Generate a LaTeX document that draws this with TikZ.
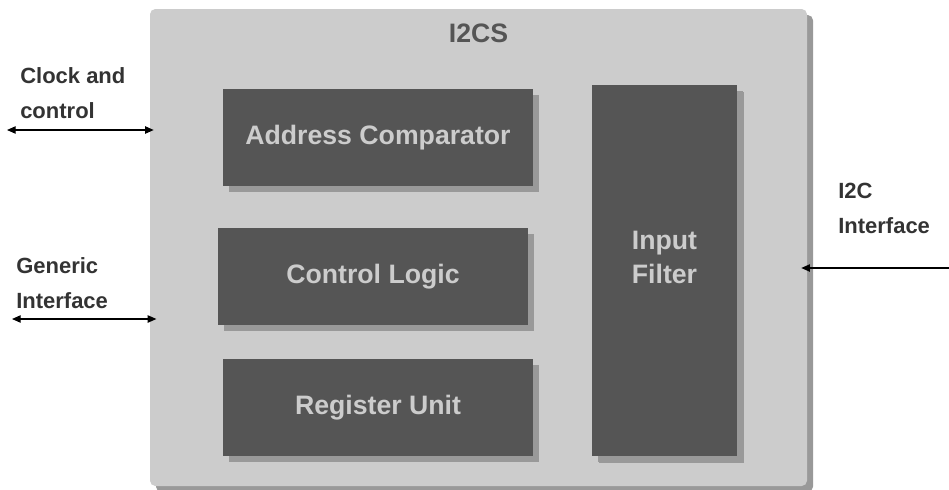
\documentclass[tikz,border=0pt]{standalone}
\usepackage{fontspec}
\setsansfont{Liberation Sans}
\usetikzlibrary{arrows.meta,shadows}
\definecolor{panel}{HTML}{CCCCCC}
\definecolor{block}{HTML}{555555}
\definecolor{shade}{HTML}{999999}
\definecolor{label}{HTML}{333333}

\begin{document}
\begin{tikzpicture}[
  x=0.75pt, y=-0.75pt,
  every node/.style={font=\sffamily\bfseries},
  blocktext/.style={text=panel, align=center,
               font=\sffamily\bfseries\fontsize{20}{25.5}\selectfont},
  unit/.style={blocktext, fill=block, minimum width=232.5pt, minimum height=72.75pt,
               general shadow={fill=shade, shadow xshift=4.5pt, shadow yshift=-4.5pt}},
  port/.style={text=label, align=left, anchor=base west, inner sep=0pt,
               font=\sffamily\bfseries\fontsize{16.5}{26.25}\selectfont},
  link/.style={line width=0.9pt},
  >={Triangle[length=6.5pt, width=5.5pt]}
]
\useasboundingbox (0,0) rectangle (949,489);

% I2CS core
\node[fill=panel, rounded corners=4pt, minimum width=492.75pt, minimum height=357.75pt,
      general shadow={fill=shade, shadow xshift=4.5pt, shadow yshift=-4.5pt}]
  (core) at (478.5, 247.5) {};
\node[text=block, font=\sffamily\bfseries\fontsize{20}{24}\selectfont]
  (title) at (478.5, 33.5) {I2CS};

% Internal blocks
\node[unit] (addr) at (378, 137.5) {Address Comparator};
\node[unit] (ctrl) at (373, 276.5) {Control Logic};
\node[unit] (regs) at (378, 407.5) {Register Unit};
\node[unit, minimum width=108.75pt, minimum height=278.25pt,
      general shadow={fill=shade, shadow xshift=5.25pt, shadow yshift=-5.25pt}]
  (filt) at (664.5, 270.5) {};
\node[blocktext] (filtxt) at (664.5, 257) {Input\\Filter};

% Ports
\node[port] (clk) at (20, 118) {Clock and\\control};
\node[port] (gen) at (16, 308) {Generic\\Interface};
\node[port] (i2c) at (838, 233) {I2C\\Interface};

\coordinate (clkend) at (7, 130);
\coordinate (genend) at (12, 319);
\coordinate (i2cend) at (949, 268);

\draw[link, <->, shorten >=-3pt] (clkend) -- (clkend -| core.west);
\draw[link, <->, shorten >=-5pt] (genend) -- (genend -| core.west);
\draw[link, ->, shorten >=-4.5pt] (i2cend) -- (i2cend -| core.east);

\end{tikzpicture}
\end{document}
